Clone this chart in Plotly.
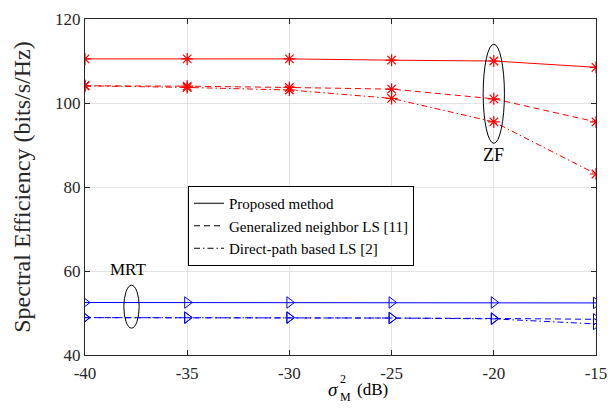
import plotly.graph_objects as go

snr_db = [-40, -35, -30, -25, -20, -15]

zf_proposed = [110.5, 110.5, 110.5, 110.2, 110.0, 108.5]
zf_gen_neighbor = [104.1, 104.0, 103.7, 103.3, 101.0, 95.5]
zf_direct_path = [104.1, 103.7, 103.1, 101.1, 95.5, 83.1]

mrt_proposed = [52.5, 52.5, 52.5, 52.5, 52.5, 52.4]
mrt_gen_neighbor = [48.9, 48.9, 48.9, 48.8, 48.7, 48.5]
mrt_direct_path = [48.9, 48.9, 48.9, 48.8, 48.6, 47.4]

legend_names = ["Proposed method", "Generalized neighbor LS [11]", "Direct-path based LS [2]"]

FONT = "Liberation Serif"
dash_styles = ["solid", "6px,4px", "6px,3px,1.5px,3px"]

W, H = 616, 411
ML, MR, MT, MB = 77, 28, 11, 64

def px(xp):
    return (xp - ML) / (W - ML - MR)

def py(yp):
    return (H - MB - yp) / (H - MT - MB)

fig = go.Figure()

zf_series = [zf_proposed, zf_gen_neighbor, zf_direct_path]
mrt_series = [mrt_proposed, mrt_gen_neighbor, mrt_direct_path]

for vals, dash in zip(zf_series, dash_styles):
    fig.add_trace(go.Scatter(
        x=snr_db, y=vals, mode="lines+markers", showlegend=False,
        line=dict(color="#ff0000", width=1, dash=dash),
        marker=dict(symbol="asterisk-open", size=10, color="#ff0000",
                    line=dict(color="#ff0000", width=1.2)),
    ))

for vals, dash in zip(mrt_series, dash_styles):
    fig.add_trace(go.Scatter(
        x=snr_db, y=vals, mode="lines+markers", showlegend=False,
        line=dict(color="#0000ff", width=1, dash=dash),
        marker=dict(symbol="triangle-right-open", size=10, color="#0000ff",
                    line=dict(color="#0000ff", width=1)),
    ))

for name, dash in zip(legend_names, dash_styles):
    fig.add_trace(go.Scatter(
        x=[None], y=[None], mode="lines", name=name,
        line=dict(color="black", width=1, dash=dash),
    ))

fig.add_shape(type="circle", xref="x", yref="y",
              x0=-20.52, x1=-19.48, y0=90.4, y1=114.0,
              line=dict(color="black", width=1))
fig.add_shape(type="circle", xref="x", yref="y",
              x0=-38.1, x1=-37.35, y0=46.4, y1=56.6,
              line=dict(color="black", width=1))

fig.add_annotation(x=-20, y=87.6, xref="x", yref="y", text="ZF", showarrow=False,
                   font=dict(family=FONT, size=18, color="black"))
fig.add_annotation(x=-37.9, y=60.3, xref="x", yref="y", text="MRT", showarrow=False,
                   font=dict(family=FONT, size=17, color="black"))

# x-axis title built from pieces (figure pixel positions)
fig.add_annotation(xref="paper", yref="paper", x=px(325), y=py(381),
                   xanchor="center", yanchor="middle", showarrow=False,
                   text="<i>σ</i>", font=dict(family=FONT, size=19, color="black"))
fig.add_annotation(xref="paper", yref="paper", x=px(335), y=py(371),
                   xanchor="center", yanchor="middle", showarrow=False,
                   text="2", font=dict(family=FONT, size=12, color="black"))
fig.add_annotation(xref="paper", yref="paper", x=px(337), y=py(389),
                   xanchor="center", yanchor="middle", showarrow=False,
                   text="M", font=dict(family=FONT, size=12, color="black"))
fig.add_annotation(xref="paper", yref="paper", x=px(364), y=py(381),
                   xanchor="center", yanchor="middle", showarrow=False,
                   text="(dB)", font=dict(family=FONT, size=17, color="black"))

axis_common = dict(
    showgrid=True, gridcolor="#e3e3e3", gridwidth=1,
    showline=True, linecolor="#262626", linewidth=1, mirror="ticks",
    ticks="inside", ticklen=5, tickcolor="#262626",
    tickfont=dict(family=FONT, size=17, color="#262626"),
    zeroline=False, automargin=False, ticklabeloverflow="allow",
)

fig.update_xaxes(range=[-40, -15], tickvals=snr_db, ticktext=[str(v) for v in snr_db],
                 ticklabelstandoff=3, **axis_common)
fig.update_yaxes(range=[40, 120], tickvals=[40, 60, 80, 100, 120],
                 title=dict(text="Spectral Efficiency (bits/s/Hz)",
                            font=dict(family=FONT, size=24, color="#262626"), standoff=17),
                 **axis_common)

fig.update_layout(
    width=W, height=H,
    margin=dict(l=ML, r=MR, t=MT, b=MB),
    paper_bgcolor="white", plot_bgcolor="white",
    showlegend=True,
    legend=dict(x=px(180), y=py(178), xanchor="left", yanchor="top",
                bgcolor="white", bordercolor="black", borderwidth=1,
                font=dict(family=FONT, size=15, color="black"),
                tracegroupgap=0, itemwidth=30),
)

fig.write_html("out.html")
